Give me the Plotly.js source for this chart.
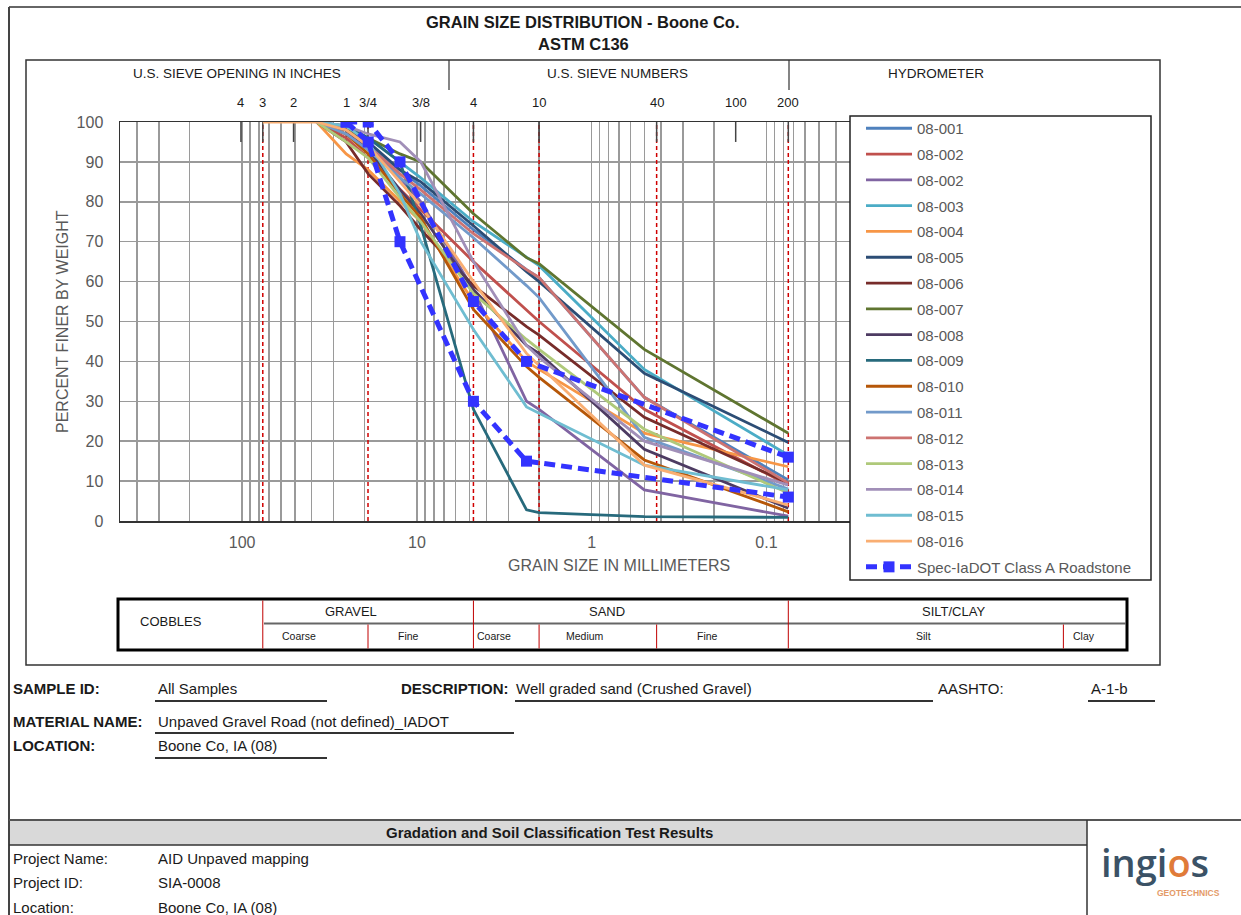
<!DOCTYPE html>
<html><head><meta charset="utf-8">
<script src="https://cdn.plot.ly/plotly-3.0.1.min.js"></script>
<style>html,body{margin:0;padding:0;background:#fff;} #chart{width:1241px;height:915px;}</style>
</head><body><div id="chart"></div>
<script>
const W = 1241, H = 915;
const FONT = 'Liberation Sans, Arial, sans-serif';

// ---- DATA ----
// sieve sizes (mm) at which samples were measured
const sieveSizesMm = [76.2, 50.8, 37.5, 25.4, 19.0, 12.5, 9.5, 4.75, 2.36, 2.0, 0.5, 0.075];
// percent finer by weight for each sample
const p08_001  = [null, null, 100, 97, 94, 88, 84, 73, 63, 61, 31, 10.3];
const p08_002  = [null, null, 100, 96, 91, 83, 78, 65, 53, 50, 28, 9];
const p08_002b = [null, null, 100, 98, 94, 86, 80, 58, 30, 28, 7.8, 1.2];
const p08_003  = [null, null, 100, 99, 96, 90, 86, 75, 66, 64, 38, 16.5];
const p08_004  = [null, null, 100, 92, 88, 80, 75, 55, 40, 38, 22, 13.6];
const p08_005  = [null, null, 100, 98, 95, 88, 85, 74, 62.5, 60, 37, 19.7];
const p08_006  = [null, null, 100, 95, 87, 79, 73, 59, 48.7, 46.6, 26, 9.5];
const p08_007  = [null, null, 100, 98, 96, 92, 90, 77, 66, 64.5, 43, 22];
const p08_008  = [null, null, 100, 98, 93, 83, 77, 58, 44, 42, 18, 3.2];
const p08_009  = [null, null, 100, 99, 96, 90, 74, 28, 2.8, 2.1, 1.1, 0.9];
const p08_010  = [null, null, 100, 97, 92, 82, 76, 53, 38.7, 36, 15.3, 2.3];
const p08_011  = [null, null, 100, 97, 93, 86, 82, 71, 59, 56, 21, 8];
const p08_012  = [null, null, 100, 98, 94, 87, 83, 72, 63, 61, 31, 9.5];
const p08_013  = [null, null, 100, 95, 91, 81, 75, 57, 45.5, 43, 23, 7];
const p08_014  = [null, null, 100, 99, 97, 95, 90, 65, 44, 41, 20, 9];
const p08_015  = [null, null, 100, 99, 95, 82, 70, 48, 28.6, 27, 14, 7.8];
const p08_016  = [100, 100, 100, 98, 94, 85, 79, 60, 42, 39, 14, 4];

const sampleNames = ['08-001','08-002','08-002','08-003','08-004','08-005','08-006','08-007',
  '08-008','08-009','08-010','08-011','08-012','08-013','08-014','08-015','08-016'];
const sampleValues = [p08_001,p08_002,p08_002b,p08_003,p08_004,p08_005,p08_006,p08_007,
  p08_008,p08_009,p08_010,p08_011,p08_012,p08_013,p08_014,p08_015,p08_016];
const sampleColors = ['#4F81BD','#C0504D','#8064A2','#4BACC6','#F79646','#2C4D75','#772C2A','#5F7530',
  '#4D3B62','#276A7C','#B65708','#729ACA','#CD7371','#AFC97A','#A18FB8','#6FBDD1','#F9AE72'];

// IaDOT Class A Roadstone specification band
const specName = 'Spec-IaDOT Class A Roadstone';
const specSizesMm = [25.4, 19.0, 12.5, 4.75, 2.36, 0.075];
const specUpper = [100, 100, 90, 55, 40, 16];
const specLower = [100, 95, 70, 30, 15, 6];

// U.S. sieve markers along the top of the chart
const topSieveSizesMm = [101.6, 76.2, 50.8, 25.4, 19.05, 9.525, 4.75, 2.0, 0.425, 0.15, 0.075];
const topSieveLabels = ['4','3','2','1','3/4','3/8','4','10','40','100','200'];
// soil classification boundaries (mm)
const boundarySizesMm = [76.2, 19.05, 4.75, 2.0, 0.425, 0.075];
const clayBoundaryMm = 0.002;

// ---- helpers ----
const px = x => x / W;
const py = y => 1 - y / H;
const shapes = [];
const annotations = [];
function L(x0, y0, x1, y1, color, width, dash) {
  shapes.push({type:'line', xref:'paper', yref:'paper', x0:px(x0), y0:py(y0), x1:px(x1), y1:py(y1),
    line:{color:color, width:width, dash:dash||'solid'}, layer:'above'});
}
function R(x0, y0, x1, y1, lineColor, width, fill) {
  shapes.push({type:'rect', xref:'paper', yref:'paper', x0:px(x0), y0:py(y0), x1:px(x1), y1:py(y1),
    line:{color:lineColor, width:width}, fillcolor:fill||'rgba(0,0,0,0)', layer:'above'});
}
function T(text, x, y, o) {
  o = o || {};
  annotations.push({text: o.bold ? '<b>'+text+'</b>' : text, xref:'paper', yref:'paper', x:px(x), y:py(y),
    xanchor:o.anchor||'left', yanchor:'middle', showarrow:false,
    font:{family:o.family||FONT, size:o.size||15, color:o.color||'#1a1a1a', weight:o.weight||'normal'}, textangle:o.angle||0});
}

// ---- traces ----
const traces = [];
// classification boundaries (red dashed)
{
  const bx = [], by = [];
  boundarySizesMm.forEach(s => { bx.push(s, s, null); by.push(0, 100, null); });
  traces.push({x:bx, y:by, mode:'lines', line:{color:'#D00000', width:1.5, dash:'4px,3px'},
    showlegend:false, hoverinfo:'skip'});
}
// sieve ticks along the top
{
  const tx = [], ty = [];
  topSieveSizesMm.forEach(s => { tx.push(s, s, null); ty.push(100, 95, null); });
  traces.push({x:tx, y:ty, mode:'lines', line:{color:'#444', width:1.5}, showlegend:false, hoverinfo:'skip'});
}
sampleNames.forEach((n, i) => {
  traces.push({x:sieveSizesMm, y:sampleValues[i], name:n, mode:'lines', legendgroup:'g'+i,
    line:{color:sampleColors[i], width:2.8}, connectgaps:false});
});
traces.push({x:specSizesMm.concat([null], specSizesMm), y:specUpper.concat([null], specLower),
  name:specName, legendgroup:'spec', mode:'lines+markers', connectgaps:false,
  line:{color:'#3333FF', width:5, dash:'11px,6px'}, marker:{symbol:'square', size:11, color:'#3333FF'}});

// grid tick values for log axis
const gridVals = [], gridText = [];
for (let e = -3; e <= 2; e++) {
  for (let m = 1; m <= 9; m++) {
    const v = m * Math.pow(10, e);
    if (v > 500) break;
    gridVals.push(v);
    let t = '';
    if (m === 1 && e >= -1) t = e >= 0 ? String(Math.pow(10, e)) : '0.1';
    gridText.push(t);
  }
}

// ---- frames & decorations ----
L(9, 7, 1241, 7, '#666', 2);
L(9, 7, 9, 915, '#444', 2);
R(26, 60, 1160, 665, '#333', 1.5);
L(449, 60, 449, 90, '#333', 1.2);
L(789, 60, 789, 90, '#333', 1.2);
// legend box
R(850, 116, 1151, 580, '#222', 1.5, '#ffffff');

// classification table
R(118, 599, 1127, 650, '#000', 3);
L(264, 623.5, 1126, 623.5, '#666', 2);
[76.2, 4.75, 0.075].forEach(v => shapes.push({type:'line', xref:'x', yref:'paper', x0:v, x1:v, y0:py(600.5), y1:py(648.5), line:{color:'#C00000', width:1}, layer:'above'}));
[19.05, 2.0, 0.425, clayBoundaryMm].forEach(v => shapes.push({type:'line', xref:'x', yref:'paper', x0:v, x1:v, y0:py(624.5), y1:py(648.5), line:{color:'#C00000', width:1}, layer:'above'}));

// sample info underlines
L(155, 701, 327, 701, '#333', 2);
L(515, 701, 933, 701, '#333', 2);
L(1088, 701, 1155, 701, '#333', 2);
L(155, 733, 514, 733, '#333', 2);
L(155, 758, 327, 758, '#333', 2);

// footer
R(10, 820, 1087, 845, 'rgba(0,0,0,0)', 0, '#D9D9D9');
L(9, 820, 1241, 820, '#555', 2);
L(9, 845, 1087, 845, '#333', 1.5);
L(1087, 820, 1087, 915, '#333', 1.5);

// ---- texts ----
T('GRAIN SIZE DISTRIBUTION - Boone Co.', 583, 22, {bold:true, size:16.5, anchor:'center'});
T('ASTM C136', 583, 44, {bold:true, size:16.5, anchor:'center'});
T('U.S. SIEVE OPENING IN INCHES', 237, 73, {size:13.5, anchor:'center'});
T('U.S. SIEVE NUMBERS', 617, 73, {size:13.5, anchor:'center'});
T('HYDROMETER', 936, 73, {size:13.5, anchor:'center'});
topSieveSizesMm.forEach((s, i) => {
  annotations.push({text: topSieveLabels[i], xref:'x', yref:'paper', x: Math.log10(s), y: py(103),
    xanchor:'center', yanchor:'middle', showarrow:false, font:{family:FONT, size:13, color:'#1a1a1a'}});
});
T('PERCENT FINER BY WEIGHT', 62, 322, {size:16, anchor:'center', angle:-90, color:'#595959'});
T('GRAIN SIZE IN MILLIMETERS', 619, 565, {size:16, anchor:'center', color:'#595959'});

T('COBBLES', 171, 621, {size:13, anchor:'center'});
T('GRAVEL', 351, 611, {size:13, anchor:'center'});
T('SAND', 607, 611, {size:13, anchor:'center'});
T('SILT/CLAY', 953, 611, {size:13, anchor:'center'});
T('Coarse', 299, 636, {size:10.5, anchor:'center'});
T('Fine', 408, 636, {size:10.5, anchor:'center'});
T('Coarse', 494, 636, {size:10.5, anchor:'center'});
T('Medium', 585, 636, {size:10.5, anchor:'center'});
T('Fine', 708, 636, {size:10.5, anchor:'center'});
T('Silt', 923, 636, {size:10.5, anchor:'center'});
T('Clay', 1084, 636, {size:10.5, anchor:'center'});

T('SAMPLE ID:', 11, 688, {bold:true});
T('All Samples', 156, 688);
T('DESCRIPTION:', 511, 688, {bold:true, anchor:'right'});
T('Well graded sand (Crushed Gravel)', 514, 688);
T('AASHTO:', 936, 688);
T('A-1-b', 1089, 688);
T('MATERIAL NAME:', 11, 721, {bold:true});
T('Unpaved Gravel Road (not defined)_IADOT', 156, 721);
T('LOCATION:', 11, 745, {bold:true});
T('Boone Co, IA (08)', 156, 745);

T('Gradation and Soil Classification Test Results', 549, 832, {bold:true, anchor:'center'});
T('Project Name:', 11, 858);
T('AID Unpaved mapping', 156, 858);
T('Project ID:', 11, 882);
T('SIA-0008', 156, 882);
T('Location:', 11, 907);
T('Boone Co, IA (08)', 156, 907);
T('ingi<span style="color:#E07B39">o</span>s', 1155, 862, {size:38, anchor:'center', color:'#3B5266', family:'Open Sans, sans-serif', weight:600});
T('<b>GEOTECHNICS</b>', 1188, 893, {size:8.5, anchor:'center', color:'#E49A68'});

const layout = {
  width: W, height: H,
  margin: {l:0, r:0, t:0, b:0},
  paper_bgcolor: '#ffffff', plot_bgcolor: '#ffffff',
  showlegend: true,
  xaxis: {
    type:'log', range:[Math.log10(500), -3], domain:[120/W, 1116/W],
    tickmode:'array', tickvals:gridVals, ticktext:gridText,
    showgrid:true, gridcolor:'#9a9a9a', gridwidth:1.5,
    showline:true, mirror:true, linecolor:'#333', linewidth:1.5,
    ticks:'', zeroline:false, ticklabelstandoff:6,
    tickfont:{family:FONT, size:16, color:'#595959'}
  },
  yaxis: {
    range:[0, 100], dtick:10, domain:[1 - 521/H, 1 - 122/H],
    showgrid:true, gridcolor:'#9a9a9a', gridwidth:1.5,
    showline:true, mirror:true, linecolor:'#333', linewidth:1.5,
    ticks:'', zeroline:false, ticklabelstandoff:12,
    tickfont:{family:FONT, size:16, color:'#595959'}
  },
  legend: {
    x: 861/W, xanchor:'left', y: 1 - 112/H, yanchor:'top',
    bgcolor:'rgba(0,0,0,0)', borderwidth:0,
    font:{family:FONT, size:15, color:'#595959'},
    itemwidth:46, tracegroupgap:3.3, traceorder:'grouped'
  },
  shapes: shapes,
  annotations: annotations
};

Plotly.newPlot('chart', traces, layout, {staticPlot:true, displayModeBar:false});
</script>
</body></html>
